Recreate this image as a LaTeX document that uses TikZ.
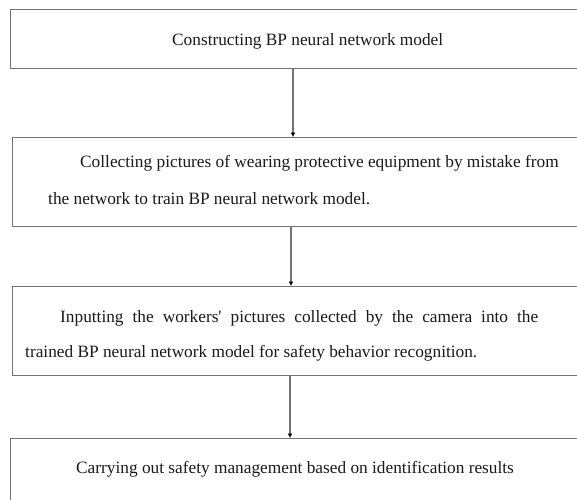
\documentclass[tikz,border=0pt]{standalone}
\usepackage{fontspec}
\setmainfont{Liberation Serif}
\usetikzlibrary{arrows.meta}
\begin{document}
\begin{tikzpicture}[x=1pt,y=-1pt,
  stagebox/.style={draw=black!55, line width=1.3pt, fill=none, rectangle,
    anchor=north west, minimum width=600pt, inner sep=0pt},
  label/.style={anchor=base west, inner sep=0pt, font=\fontsize{17.3}{20}\selectfont, text=black!90},
  flow/.style={draw=black!55, line width=1.3pt, -{Latex[length=4.5pt,width=5pt,fill=black,color=black]}}]
\useasboundingbox (0,0) rectangle (577,499);
\clip (0,0) rectangle (577,499);
% stage frames
\node[stagebox, minimum height=59pt] (b1) at (10,9) {};
\node[stagebox, minimum height=89pt] (b2) at (12,137) {};
\node[stagebox, minimum height=89pt] (b3) at (12,286) {};
\node[stagebox, minimum height=80pt] (b4) at (10,438) {};
% stage texts
\node[label] (t1) at (172,45) {Constructing BP neural network model};
\node[label] (t2a) at (80,167) {Collecting pictures of wearing protective equipment by mistake from};
\node[label] (t2b) at (48,204) {the network to train BP neural network model.};
\node[label] (t3a) at (60,322) {\makebox[478pt][s]{Inputting the workers\textquotesingle{} pictures collected by the camera into the}};
\node[label] (t3b) at (25,357) {trained BP neural network model for safety behavior recognition.};
\node[label] (t4) at (76,473) {Carrying out safety management based on identification results};
% arrow positions
\coordinate (c1) at (293,0);
\coordinate (c2) at (291,0);
\coordinate (c3) at (290,0);
\draw[flow] (b1.south -| c1) -- (b2.north -| c1);
\draw[flow] (b2.south -| c2) -- (b3.north -| c2);
\draw[flow] (b3.south -| c3) -- (b4.north -| c3);
\end{tikzpicture}
\end{document}
